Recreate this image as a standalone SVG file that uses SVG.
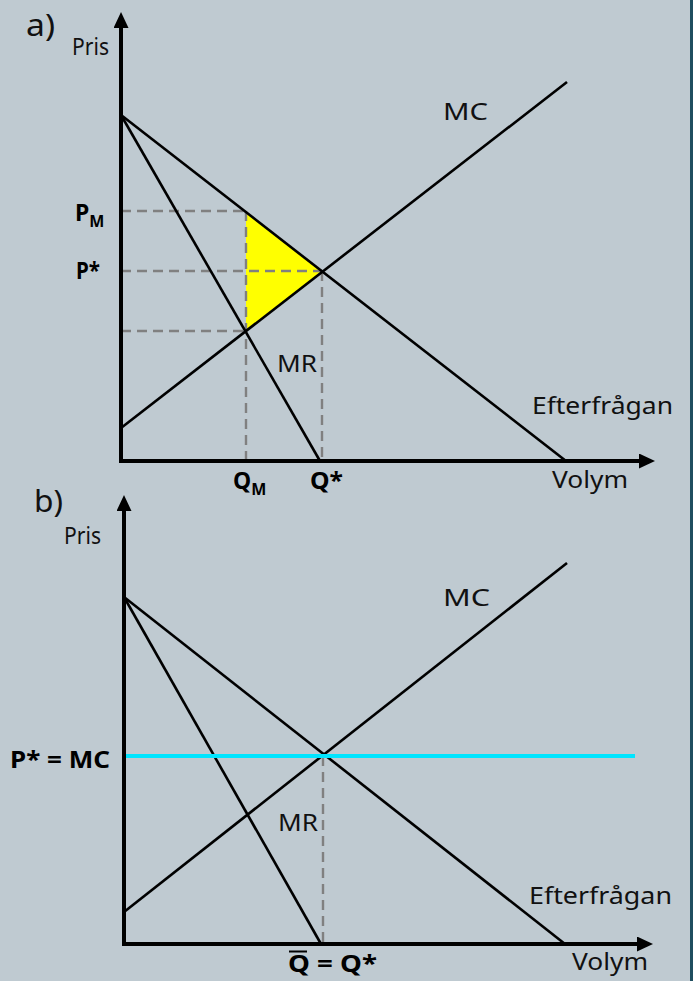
<svg xmlns="http://www.w3.org/2000/svg" width="693" height="981" viewBox="0 0 693 981">
<defs>
<marker id="ah" markerWidth="16" markerHeight="15" refX="1" refY="7.5" orient="auto" markerUnits="userSpaceOnUse" viewBox="0 0 16 15">
<path d="M0,0 L16,7.5 L0,15 Z" fill="#000"/>
</marker>
<style>
.ax{stroke:#000;stroke-width:4;fill:none}
.cv{stroke:#000;stroke-width:2.6;fill:none}
.ds{stroke:#808080;stroke-width:2.4;stroke-dasharray:10,6;fill:none}
.t{font-family:"Noto Sans","DejaVu Sans",sans-serif;font-size:24px;fill:#111}
.big{font-size:30px}
.b{font-family:"Noto Sans","DejaVu Sans",sans-serif;font-size:23px;font-weight:bold;fill:#000}
.sub{font-size:16px}
</style>
</defs>
<rect x="0" y="0" width="693" height="981" fill="#bfcad1"/>
<rect x="690" y="0" width="3" height="981" fill="#1f4e5f"/>

<g id="panel-a">
<polygon points="246,212 322,271 246,331" fill="#ffff00"/>
<g id="a-guides">
<line class="ds" x1="121" y1="211" x2="246" y2="211"/>
<line class="ds" x1="121" y1="271" x2="322" y2="271"/>
<line class="ds" x1="121" y1="331" x2="246" y2="331"/>
<line class="ds" x1="246" y1="211" x2="246" y2="461"/>
<line class="ds" x1="322" y1="271" x2="322" y2="461"/>
</g>
<g id="a-curves">
<line class="cv" x1="121" y1="115" x2="566" y2="461"/>
<line class="cv" x1="121" y1="115" x2="320" y2="461"/>
<line class="cv" x1="121" y1="428" x2="567" y2="82"/>
</g>
<g id="a-axes">
<line class="ax" x1="121" y1="463" x2="121" y2="27" marker-end="url(#ah)"/>
<line class="ax" x1="119" y1="461" x2="640" y2="461" marker-end="url(#ah)"/>
</g>
<g id="a-labels">
<text class="t big" x="26" y="36" textLength="29" lengthAdjust="spacingAndGlyphs">a)</text>
<text class="t" x="72" y="55" textLength="37" lengthAdjust="spacingAndGlyphs">Pris</text>
<text class="t" x="443" y="120" textLength="45" lengthAdjust="spacingAndGlyphs">MC</text>
<text class="t" x="277" y="372" textLength="40" lengthAdjust="spacingAndGlyphs">MR</text>
<text class="t" x="532" y="414" textLength="141" lengthAdjust="spacingAndGlyphs">Efterfrågan</text>
<text class="t" x="552" y="488" textLength="76" lengthAdjust="spacingAndGlyphs">Volym</text>
<text class="b" x="75" y="221">P<tspan class="sub" dy="6">M</tspan></text>
<text class="b" x="76" y="279" textLength="24" lengthAdjust="spacingAndGlyphs">P*</text>
<text class="b" x="233" y="489">Q<tspan class="sub" dy="6">M</tspan></text>
<text class="b" x="310" y="489" textLength="33" lengthAdjust="spacingAndGlyphs">Q*</text>
</g>
</g>

<g id="panel-b">
<g id="b-guides">
<line class="ds" x1="323" y1="756" x2="323" y2="944"/>
</g>
<g id="b-curves">
<line class="cv" x1="124" y1="597" x2="565" y2="944"/>
<line class="cv" x1="124" y1="597" x2="321" y2="944"/>
<line class="cv" x1="124" y1="912" x2="567" y2="563"/>
<line x1="124" y1="756" x2="635" y2="756" stroke="#00e5ff" stroke-width="4"/>
</g>
<g id="b-axes">
<line class="ax" x1="124" y1="946" x2="124" y2="510" marker-end="url(#ah)"/>
<line class="ax" x1="122" y1="944" x2="638" y2="944" marker-end="url(#ah)"/>
</g>
<g id="b-labels">
<text class="t big" x="34" y="512" textLength="29" lengthAdjust="spacingAndGlyphs">b)</text>
<text class="t" x="64" y="544" textLength="37" lengthAdjust="spacingAndGlyphs">Pris</text>
<text class="t" x="443" y="606" textLength="47" lengthAdjust="spacingAndGlyphs">MC</text>
<text class="t" x="278" y="831" textLength="40" lengthAdjust="spacingAndGlyphs">MR</text>
<text class="t" x="529" y="904" textLength="143" lengthAdjust="spacingAndGlyphs">Efterfrågan</text>
<text class="t" x="572" y="970" textLength="76" lengthAdjust="spacingAndGlyphs">Volym</text>
<text class="b" x="10" y="768" font-size="25" textLength="100" lengthAdjust="spacingAndGlyphs">P* = MC</text>
<text class="b" x="288" y="972" textLength="89" lengthAdjust="spacingAndGlyphs">Q = Q*</text>
<line x1="289" y1="951.5" x2="307" y2="951.5" stroke="#000" stroke-width="2"/>
</g>
</g>
</svg>
